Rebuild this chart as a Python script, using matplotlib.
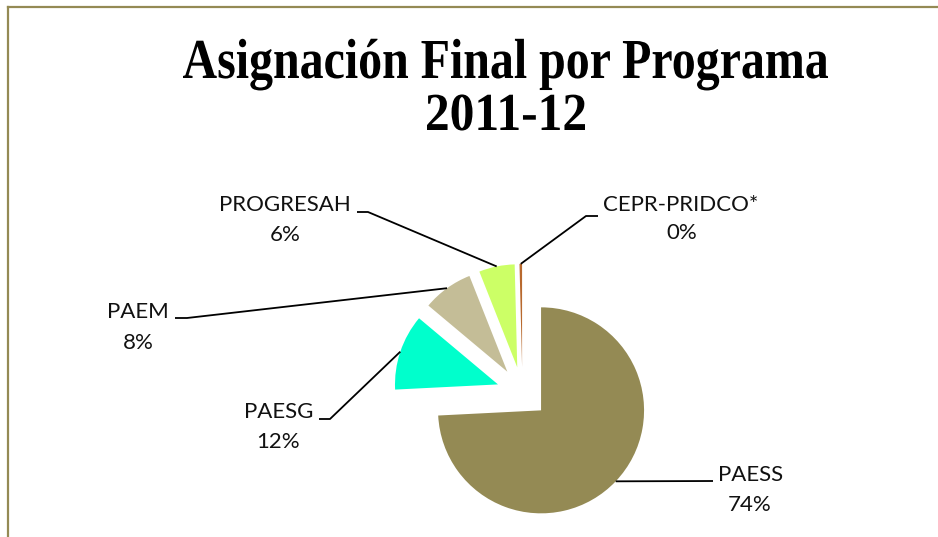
import matplotlib
matplotlib.use("Agg")
import matplotlib.pyplot as plt
import numpy as np
from matplotlib.textpath import TextPath
from matplotlib.font_manager import FontProperties
from matplotlib.patches import PathPatch
from matplotlib.transforms import Affine2D

# ---- data ----
categories = ["PAESS", "PAESG", "PAEM", "PROGRESAH", "CEPR-PRIDCO*"]
values = [74.2, 11.9, 7.9, 5.6, 0.4]
colors = ["#948A54", "#00FFCC", "#C4BD97", "#CCFF66", "#B8692E"]
title_lines = ["Asignación Final por Programa", "2011-12"]

# ---- layout (pixels, origin top-left) ----
W, H = 938, 537
CX, CY, R = 522.4, 392.6, 103.0
# (elbow point, line end point, name centre, pct centre)
label_layout = [
    ((713, 481), (713, 481), (751, 475), (750, 505)),
    ((330, 419), (319, 419), (279, 412), (278, 442)),
    ((187, 318), (175, 318), (138, 312), (138, 343)),
    ((368, 212), (357, 212), (285, 205), (285, 235)),
    ((586, 216), (598, 216), (681, 205), (682, 233)),
]
# title boxes: (x left, x right, cap top, baseline) in pixels
title_boxes = [(183, 828, 41, 78), (427, 585, 95, 130)]

def X(px):
    return (px - CX) / R

def Y(py):
    return (CY - py) / R

fig = plt.figure(figsize=(W / 100, H / 100), dpi=100)
ax = fig.add_axes([0, 0, 1, 1])

wedges, _ = ax.pie(values, colors=colors, startangle=90, counterclock=False,
                   explode=[0.25] * len(values), radius=1.0,
                   wedgeprops=dict(linewidth=0))
ax.set_xlim(X(0), X(W))
ax.set_ylim(Y(H), Y(0))
ax.set_aspect("auto")
ax.axis("off")

total = sum(values)
lab_font = dict(family=["Lato", "DejaVu Sans"], fontsize=16, color="#111111")
for w, cat, v, lay in zip(wedges, categories, values, label_layout):
    mid = np.deg2rad((w.theta1 + w.theta2) / 2)
    cx, cy = w.center
    ax0, ay0 = cx + w.r * np.cos(mid), cy + w.r * np.sin(mid)
    (ex, ey), (lx, ly), (nx, ny), (qx, qy) = lay
    ax.plot([ax0, X(ex), X(lx)], [ay0, Y(ey), Y(ly)], color="black", lw=1.3,
            solid_capstyle="butt")
    ax.text(X(nx), Y(ny), cat, ha="center", va="center", **lab_font)
    ax.text(X(qx), Y(qy), f"{v / total * 100:.0f}%", ha="center", va="center", **lab_font)

# title: stretched serif bold text drawn as paths to match the reference box
fp = FontProperties(family="Liberation Serif", weight="bold", size=100)
cap_ref = TextPath((0, 0), "H", prop=fp).get_extents().height
for s, (x0, x1, top, base) in zip(title_lines, title_boxes):
    tp = TextPath((0, 0), s, prop=fp)
    ext = tp.get_extents()
    sx = (x1 - x0) / ext.width
    sy = (base - top) / cap_ref
    tr = Affine2D().translate(-ext.x0, 0).scale(sx, sy).translate(x0, H - base)
    fig.patches.append(PathPatch(tp, transform=tr, facecolor="black",
                                 edgecolor="none", figure=fig))

# chart border (left and top edges visible)
border_c = "#948A54"
ax.plot([X(8), X(8)], [Y(7), Y(H + 5)], color=border_c, lw=1.6, clip_on=False)
ax.plot([X(8), X(W + 5)], [Y(7), Y(7)], color=border_c, lw=1.6, clip_on=False)

fig.savefig("out.png", dpi=100)
